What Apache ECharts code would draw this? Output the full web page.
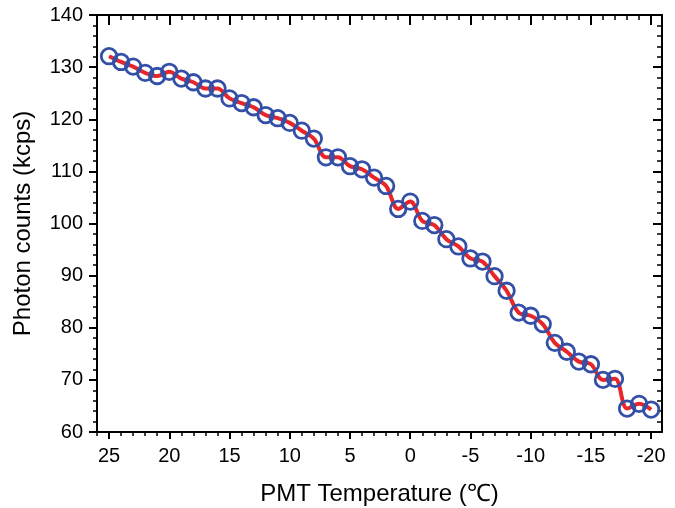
<!DOCTYPE html>
<html><head><meta charset="utf-8">
<script src="https://cdn.jsdelivr.net/npm/echarts@6/dist/echarts.min.js"></script>
<style>html,body{margin:0;padding:0;background:#fff}#c{width:675px;height:508px}</style>
</head><body><div id="c"></div>
<script>
const temperatures = [25,24,23,22,21,20,19,18,17,16,15,14,13,12,11,10,9,8,7,6,5,4,3,2,1,0,-1,-2,-3,-4,-5,-6,-7,-8,-9,-10,-11,-12,-13,-14,-15,-16,-17,-18,-19,-20];
const photonCounts = [132.1,131.0,130.1,128.9,128.3,129.1,127.8,127.1,125.9,125.9,124.0,123.1,122.3,120.8,120.2,119.3,117.8,116.3,112.7,112.7,111.0,110.4,108.8,107.2,102.8,104.2,100.5,99.7,97.0,95.6,93.3,92.7,89.9,87.1,82.9,82.3,80.7,77.1,75.4,73.5,73.0,70.0,70.2,64.5,65.4,64.3];
const xMajorTicks = [25,20,15,10,5,0,-5,-10,-15,-20];
const xMinorTicks = [26,25,24,23,22,21,20,19,18,17,16,15,14,13,12,11,10,9,8,7,6,5,4,3,2,1,0,-1,-2,-3,-4,-5,-6,-7,-8,-9,-10,-11,-12,-13,-14,-15,-16,-17,-18,-19,-20];
const yTickValues = [60,70,80,90,100,110,120,130,140];

const FONT = 'Liberation Sans, Arial, sans-serif';
const X_MIN = -20.9, X_MAX = 26;
const pts = temperatures.map((t, i) => [t, photonCounts[i]]);
const lineS = { color: '#000', width: 2 };

function xAx(pos, major, inside, len, showLine, extra) {
  return Object.assign({
    type: 'value', gridIndex: 0, position: pos, min: X_MIN, max: X_MAX, inverse: true,
    axisLine: { show: showLine, onZero: false, lineStyle: lineS },
    axisTick: { show: true, inside: inside, length: len, customValues: major ? xMajorTicks : xMinorTicks, lineStyle: { color: '#000', width: major ? 2 : 1.5 } },
    axisLabel: { show: false },
    splitLine: { show: false }
  }, extra || {});
}

const option = {
  animation: false,
  backgroundColor: '#fff',
  grid: { left: 97, right: 13, top: 15, bottom: 76, containLabel: false, outerBoundsMode: 'none' },
  xAxis: [
    xAx('bottom', true, false, 7, true, {
      axisLabel: { show: true, customValues: xMajorTicks, fontSize: 20, color: '#000', fontFamily: FONT, margin: 14 },
      name: 'PMT Temperature (℃)', nameLocation: 'middle', nameGap: 50,
      nameTextStyle: { fontSize: 24, color: '#000', fontFamily: FONT }
    }),
    xAx('bottom', false, false, 4, false),
    xAx('top', true, true, 10, true),
    xAx('top', false, true, 5, false)
  ],
  yAxis: [
    {
      type: 'value', position: 'left', min: 60, max: 140, interval: 10,
      axisLine: { show: true, onZero: false, lineStyle: lineS },
      axisTick: { show: true, inside: false, length: 8, lineStyle: { color: '#000', width: 2 } },
      minorTick: { show: true, splitNumber: 5, length: 4, lineStyle: { color: '#000', width: 1.5 } },
      axisLabel: { fontSize: 20, color: '#000', fontFamily: FONT, margin: 14 },
      splitLine: { show: false },
      name: 'Photon counts (kcps)', nameLocation: 'middle', nameGap: 62,
      nameTextStyle: { fontSize: 24, color: '#000', fontFamily: FONT }
    },
    {
      type: 'value', position: 'right', min: 60, max: 140, interval: 10,
      axisLine: { show: true, onZero: false, lineStyle: lineS },
      axisTick: { show: true, inside: true, length: 9, lineStyle: { color: '#000', width: 2 } },
      minorTick: { show: true, splitNumber: 5, length: 5, lineStyle: { color: '#000', width: 1.5 } },
      axisLabel: { show: false },
      splitLine: { show: false }
    }
  ],
  series: [
    {
      type: 'line', xAxisIndex: 0, yAxisIndex: 0, data: pts, smooth: 0.35,
      showSymbol: false, lineStyle: { color: '#e8262a', width: 4 }, z: 2
    },
    {
      type: 'scatter', xAxisIndex: 0, yAxisIndex: 0, data: pts, symbol: 'circle', symbolSize: 15.5,
      itemStyle: { color: 'rgba(0,0,0,0)', borderColor: '#3350a6', borderWidth: 2.8, opacity: 1 }, z: 3
    }
  ]
};
const chart = echarts.init(document.getElementById('c'), null, { renderer: 'canvas' });
chart.setOption(option);
</script>
</body></html>
